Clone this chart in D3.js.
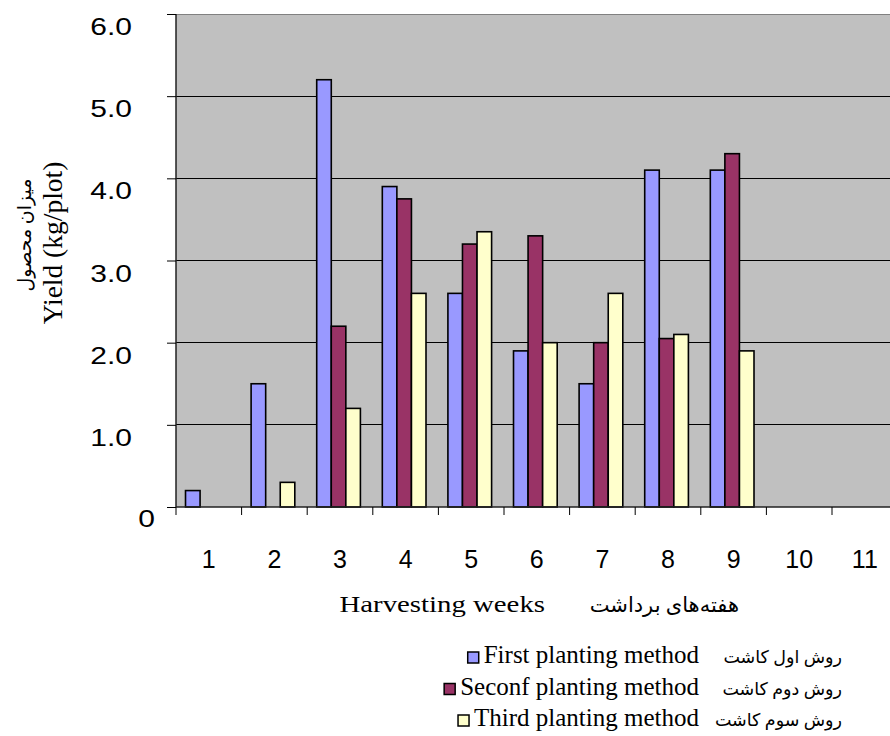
<!DOCTYPE html>
<html>
<head>
<meta charset="utf-8">
<script src="https://cdn.jsdelivr.net/npm/d3@7"></script>
<style>
  html, body { margin: 0; padding: 0; background: #ffffff; }
  svg { display: block; }
</style>
</head>
<body>
<svg id="chart" width="890" height="736"></svg>
<script>
// Harvest weeks and yield (kg/plot) for the three planting methods
const weeks = ["1", "2", "3", "4", "5", "6", "7", "8", "9", "10", "11"];
const firstMethod  = [0.2, 1.5, 5.2, 3.9, 2.6, 1.9, 1.5, 4.1, 4.1, null, null];
const secondMethod = [0,   0,   2.2, 3.75, 3.2, 3.3, 2.0, 2.05, 4.3, null, null];
const thirdMethod  = [0,   0.3, 1.2, 2.6, 3.35, 2.0, 2.6, 2.1, 1.9, null, null];
const yTicks = [0, 1, 2, 3, 4, 5, 6];
const seriesNames = ["First planting method", "Seconf planting method", "Third planting method"];
const seriesNamesFa = ["روش اول کاشت", "روش دوم کاشت", "روش سوم کاشت"];
const seriesColors = ["#9999FF", "#993366", "#FFFFCC"];

const series = [firstMethod, secondMethod, thirdMethod];

const svg = d3.select("#chart");
const sans = "'Liberation Sans', Arial, sans-serif";
const serif = "'Liberation Serif', 'Times New Roman', 'DejaVu Serif', 'DejaVu Sans', serif";

const plot = { left: 176, top: 14, bottom: 507, bandEnd: 897.6, clipRight: 890 };

const x = d3.scaleBand().domain(weeks).range([plot.left, plot.bandEnd]).padding(0);
const y = d3.scaleLinear().domain([0, 6]).range([plot.bottom, plot.top]);

const bw = x.bandwidth();
const barW = bw * 0.222;
const groupOffset = bw * 0.145;

// text helper: positioned group with optional horizontal stretch
function label(parent, tx, ty, str, opts) {
  const g = parent.append("g")
    .attr("transform", `translate(${tx},${ty}) ${opts.rotate ? `rotate(${opts.rotate})` : ""} scale(${opts.sx || 1},1)`);
  return g.append("text")
    .attr("text-anchor", opts.anchor || "start")
    .attr("font-family", opts.family)
    .attr("font-size", opts.size)
    .attr("fill", "#000")
    .text(str);
}

// plot background
svg.append("rect")
  .attr("x", plot.left).attr("y", plot.top)
  .attr("width", plot.clipRight - plot.left).attr("height", plot.bottom - plot.top)
  .attr("fill", "#C0C0C0");

// horizontal gridlines
svg.append("g").selectAll("line")
  .data(yTicks.filter(d => d > 0))
  .join("line")
  .attr("x1", plot.left).attr("x2", plot.clipRight)
  .attr("y1", d => y(d)).attr("y2", d => y(d))
  .attr("stroke", d => d === 6 ? "#808080" : "#000")
  .attr("stroke-width", 1)
  .attr("shape-rendering", "crispEdges");

// bars
const barData = [];
weeks.forEach((w, i) => {
  series.forEach((s, k) => {
    const v = s[i];
    if (v != null && v > 0) barData.push({ week: w, k, v });
  });
});
svg.append("g").selectAll("rect")
  .data(barData)
  .join("rect")
  .attr("x", d => x(d.week) + groupOffset + d.k * barW)
  .attr("y", d => y(d.v))
  .attr("width", barW)
  .attr("height", d => y(0) - y(d.v))
  .attr("fill", d => seriesColors[d.k])
  .attr("stroke", "#000")
  .attr("stroke-width", 1.6);

// y axis (tick marks and spine; labels drawn below)
const yAxis = d3.axisLeft(y).tickValues(yTicks).tickSize(9).tickFormat("");
const yg = svg.append("g").attr("transform", `translate(${plot.left},0)`).call(yAxis);
yg.select(".domain").attr("stroke", "#222").attr("stroke-width", 1.5).attr("d", `M0,${plot.top}V${plot.bottom}`);
yg.selectAll(".tick line").attr("stroke", "#000").attr("stroke-width", 1);

const yFmt = d => d === 0 ? "0" : d3.format(".1f")(d);
yTicks.forEach(d => {
  label(svg, d === 0 ? 155 : 132, y(d) + (d === 0 ? 20 : 21), yFmt(d),
    { anchor: "end", family: sans, size: 24, sx: 1.25 });
});

// x axis
const xAxis = d3.axisBottom(x).tickSize(0).tickPadding(0);
const xg = svg.append("g").attr("transform", `translate(0,${plot.bottom})`).call(xAxis);
xg.select(".domain").attr("stroke", "#222").attr("stroke-width", 1.5).attr("d", `M${plot.left},0H${plot.clipRight}`);
xg.selectAll(".tick text")
  .attr("font-family", sans).attr("font-size", 25).attr("fill", "#000")
  .attr("dy", null).attr("y", 61);
// tick marks sit on band boundaries
xg.append("g").selectAll("line")
  .data(weeks)
  .join("line")
  .attr("x1", d => x(d)).attr("x2", d => x(d))
  .attr("y1", 0).attr("y2", 8)
  .attr("stroke", "#000").attr("stroke-width", 1);

// x axis title
label(svg, 545, 612, "Harvesting weeks", { anchor: "end", family: serif, size: 24, sx: 1.2 });
label(svg, 739, 612, "هفته‌های برداشت", { anchor: "end", family: serif, size: 21 });

// y axis title
label(svg, 62, 243, "Yield (kg/plot)", { anchor: "middle", family: serif, size: 27.5, rotate: -90 });
label(svg, 31, 235, "میزان محصول", { anchor: "middle", family: serif, size: 19, rotate: -90 });

// legend
const legend = svg.append("g");
seriesNames.forEach((name, i) => {
  const yy = 663 + i * 31.5;
  const t = legend.append("text")
    .attr("x", 699).attr("y", yy)
    .attr("text-anchor", "end")
    .attr("font-family", serif).attr("font-size", 25)
    .text(name);
  const w = t.node().getComputedTextLength();
  legend.append("rect")
    .attr("x", 699 - w - 16).attr("y", yy - 11)
    .attr("width", 11).attr("height", 11)
    .attr("fill", seriesColors[i])
    .attr("stroke", "#000").attr("stroke-width", 1.5);
  legend.append("text")
    .attr("x", 842).attr("y", yy)
    .attr("text-anchor", "end")
    .attr("font-family", serif).attr("font-size", 17.5)
    .text(seriesNamesFa[i]);
});
</script>
</body>
</html>
